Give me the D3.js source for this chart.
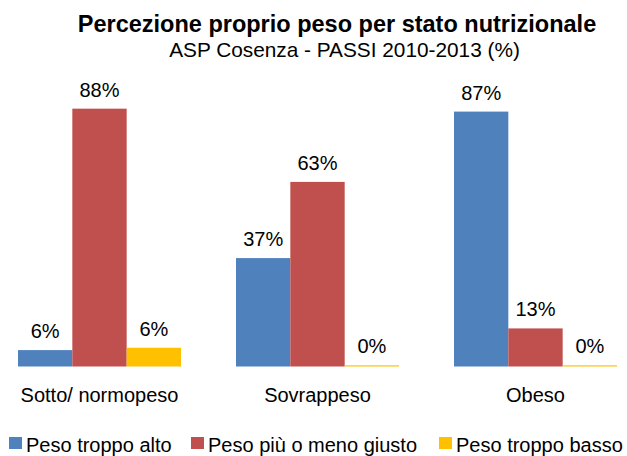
<!DOCTYPE html>
<html>
<head>
<meta charset="utf-8">
<script src="https://cdn.jsdelivr.net/npm/d3@7"></script>
<style>
  html, body { margin: 0; padding: 0; background: #fff; }
  text { font-family: "Liberation Sans", Arial, sans-serif; fill: #000; }
</style>
</head>
<body>
<svg id="chart" width="627" height="456"></svg>
<script>
const categories = ["Sotto/ normopeso", "Sovrappeso", "Obeso"];
const seriesNames = ["Peso troppo alto", "Peso più o meno giusto", "Peso troppo basso"];
const pesoTroppoAlto = [5.6, 37, 87];
const pesoGiusto = [88, 63, 13];
const pesoTroppoBasso = [6.4, 0.4, 0.4];
const colors = ["#4F81BD", "#C0504D", "#FFC000"];
const titleText = "Percezione proprio peso per stato nutrizionale";
const subtitleText = "ASP Cosenza - PASSI 2010-2013 (%)";

const series = [pesoTroppoAlto, pesoGiusto, pesoTroppoBasso];
const data = categories.map((c, i) => ({
  cat: c,
  values: series.map((s, j) => ({ key: seriesNames[j], value: s[i], color: colors[j] }))
}));

const svg = d3.select("#chart");

svg.append("text").attr("x", 337).attr("y", 31.5).attr("text-anchor", "middle")
  .style("font-size", "23.5px").style("font-weight", "bold").text(titleText);
svg.append("text").attr("x", 344.5).attr("y", 57).attr("text-anchor", "middle")
  .style("font-size", "20.8px").text(subtitleText);

const x = d3.scaleBand().domain(categories).range([18, 617]).paddingInner(55 / 218).paddingOuter(0);
const x1 = d3.scaleBand().domain(seriesNames).range([0, x.bandwidth()]).padding(0);
const y = d3.scaleLinear().domain([0, 100]).range([366.5, 73.5]);
const fmt = d3.format(".0f");

const g = svg.selectAll("g.cat").data(data).enter().append("g")
  .attr("class", "cat").attr("transform", d => `translate(${x(d.cat)},0)`);

g.selectAll("rect").data(d => d.values).enter().append("rect")
  .attr("x", d => x1(d.key))
  .attr("y", d => y(d.value))
  .attr("width", x1.bandwidth())
  .attr("height", d => y(0) - y(d.value))
  .attr("fill", d => d.color);

g.selectAll("text.lbl").data(d => d.values).enter().append("text")
  .attr("class", "lbl")
  .attr("x", d => x1(d.key) + x1.bandwidth() / 2)
  .attr("y", d => y(d.value) - 12)
  .attr("text-anchor", "middle")
  .style("font-size", "20px")
  .text(d => fmt(d.value) + "%");

const xAxis = svg.append("g").attr("transform", "translate(0,366.5)")
  .call(d3.axisBottom(x).tickSize(0).tickPadding(21));
xAxis.select(".domain").remove();
xAxis.selectAll("text").style("font-size", "20px").style("font-family", "'Liberation Sans', Arial, sans-serif").attr("fill", "#000");

const legendX = [9, 191, 439];
const leg = svg.selectAll("g.leg").data(seriesNames).enter().append("g")
  .attr("class", "leg").attr("transform", (d, i) => `translate(${legendX[i]},437)`);
leg.append("rect").attr("width", 13).attr("height", 12).attr("fill", (d, i) => colors[i]);
leg.append("text").attr("x", 17).attr("y", 14.5).style("font-size", "20px").text(d => d);
</script>
</body>
</html>
